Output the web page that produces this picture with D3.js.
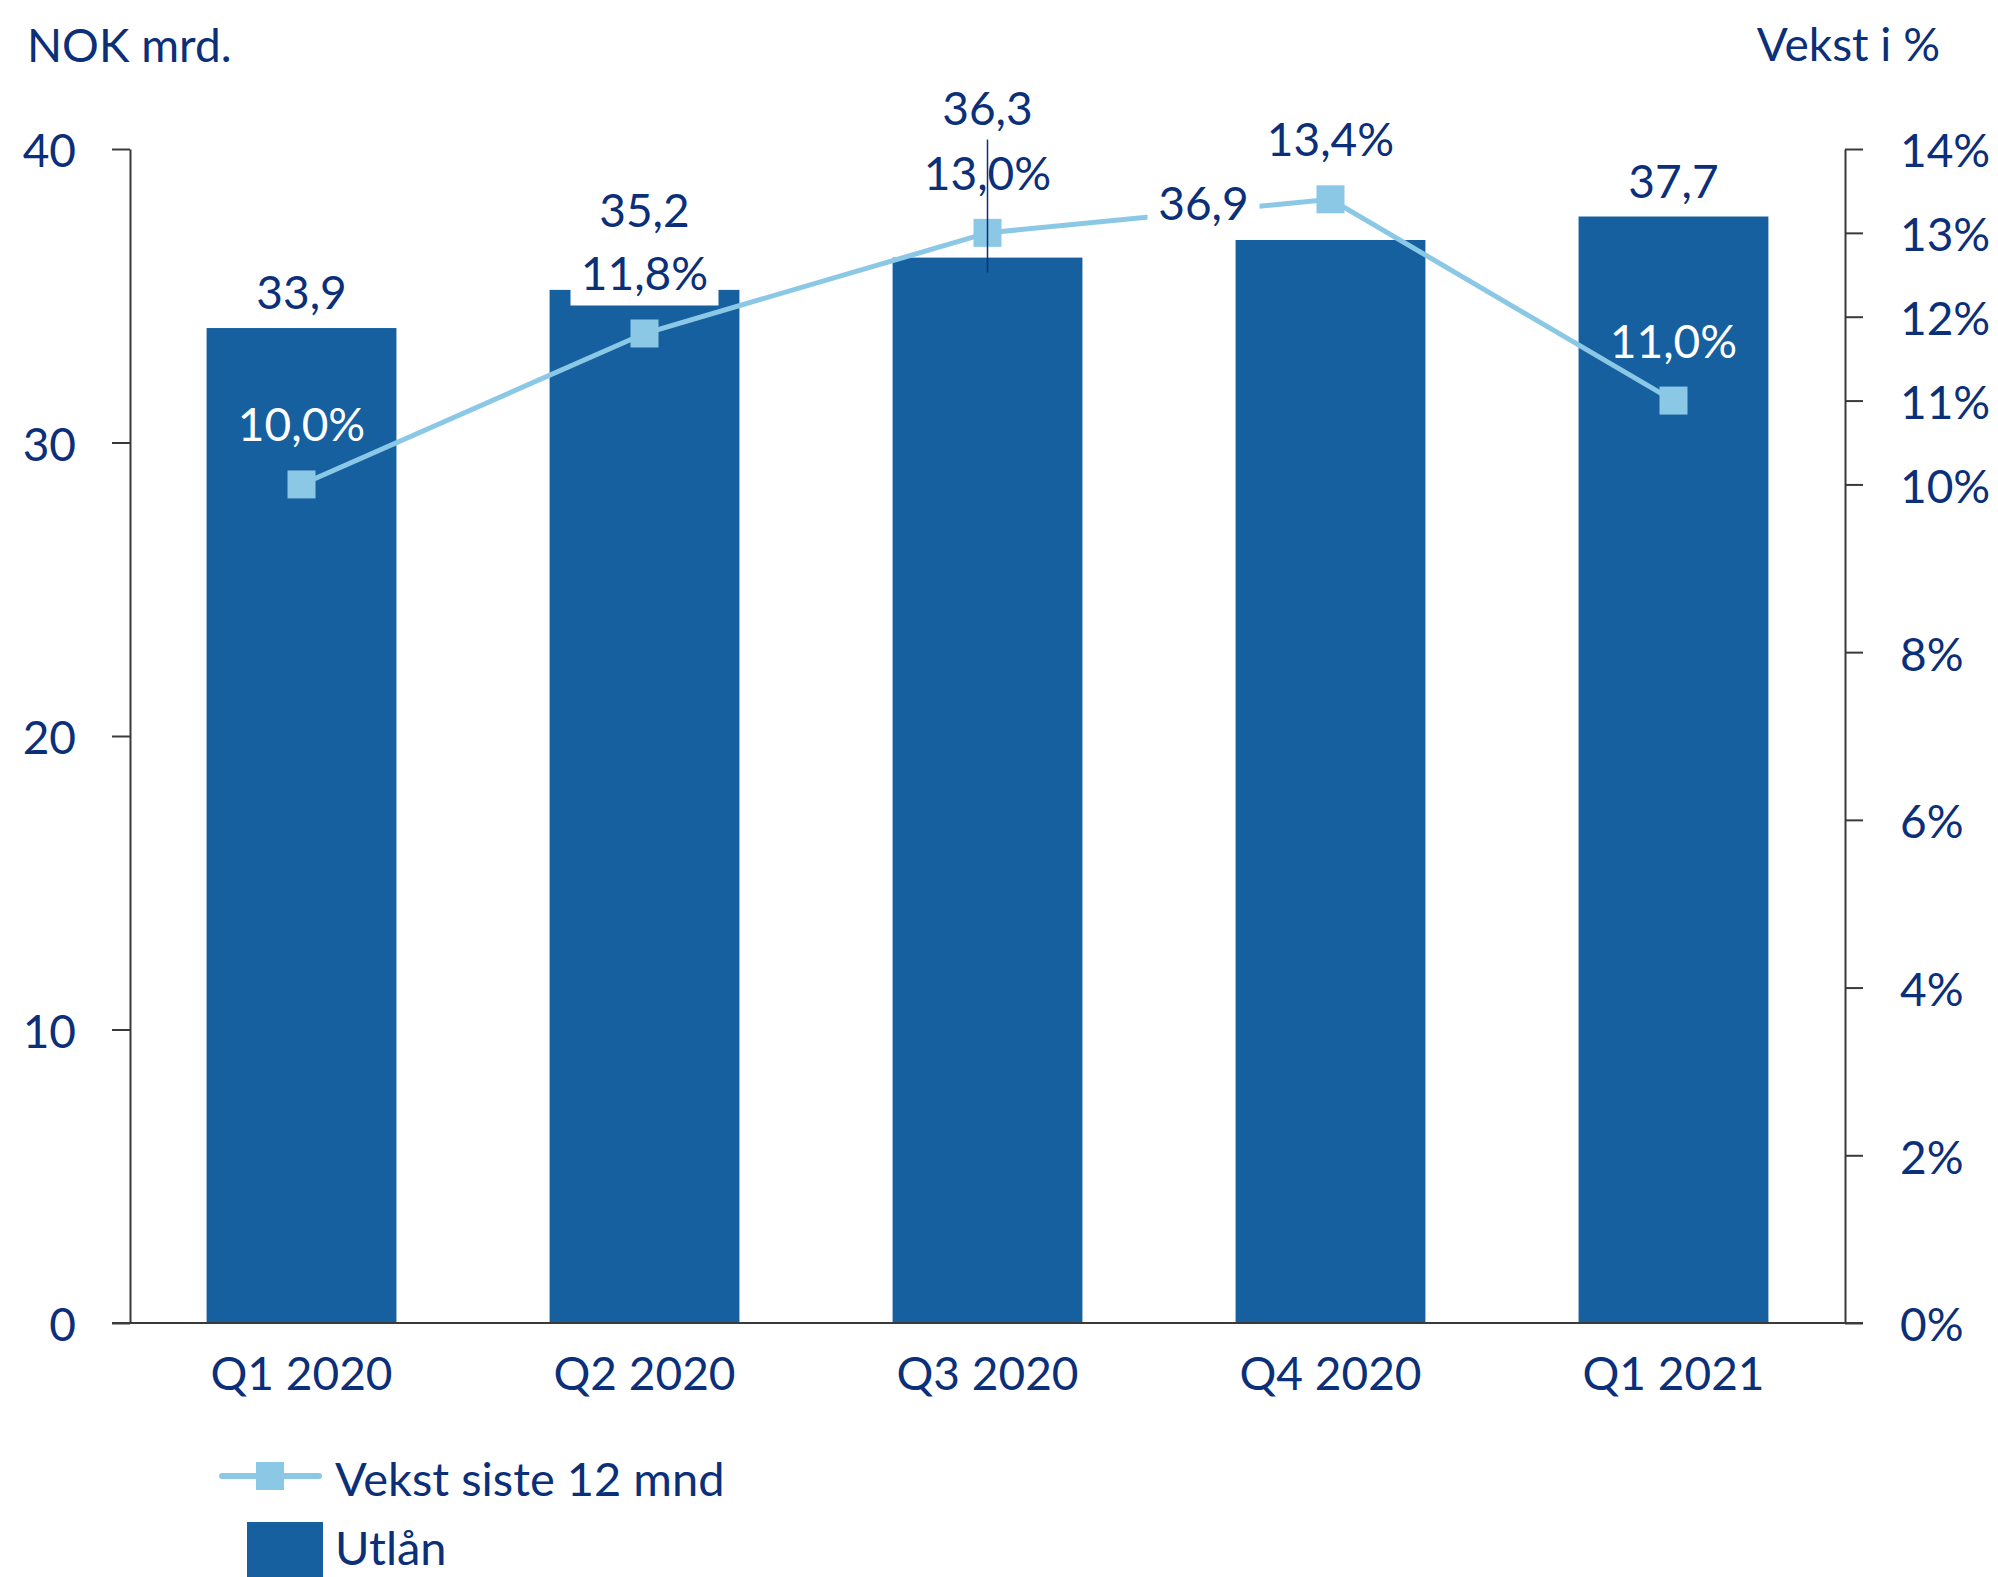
<!DOCTYPE html>
<html>
<head>
<meta charset="utf-8">
<script src="https://cdn.jsdelivr.net/npm/d3@7"></script>
<style>
  html, body { margin: 0; padding: 0; background: #ffffff; }
  svg { display: block; }
  text { font-family: Lato, "Open Sans", sans-serif; }
</style>
</head>
<body>
<svg id="chart" width="1998" height="1577"></svg>
<script>
// ---- Data ----
const categories = ["Q1 2020", "Q2 2020", "Q3 2020", "Q4 2020", "Q1 2021"];
const utlan = [33.9, 35.2, 36.3, 36.9, 37.7];          // NOK mrd. (bars, left axis)
const vekst = [10.0, 11.8, 13.0, 13.4, 11.0];          // Vekst siste 12 mnd, % (line, right axis)
const leftTicks = [0, 10, 20, 30, 40];
const rightTicks = [0, 2, 4, 6, 8, 10, 11, 12, 13, 14];
const seriesNames = ["Vekst siste 12 mnd", "Utlån"];
const leftTitle = "NOK mrd.";
const rightTitle = "Vekst i %";

// ---- Style ----
const NAVY = "#0b2f78";
const BAR = "#1660a0";
const LINE = "#8ac8e6";
const AXIS = "#3a3a3a";
const FS = 46;

const svg = d3.select("#chart");
const plot = { left: 130, right: 1845, top: 149, bottom: 1323 };

const x = d3.scaleBand().domain(categories)
  .range([plot.left, plot.right]).paddingInner(0.4465).paddingOuter(0.2233);
const yL = d3.scaleLinear().domain([0, 40]).range([plot.bottom, plot.top]);
const yR = d3.scaleLinear().domain([0, 14]).range([plot.bottom, plot.top]);
const fmt = v => d3.format(".1f")(v).replace(".", ",");

const rows = categories.map((c, i) => ({ c, u: utlan[i], v: vekst[i] }));

// Bars
svg.append("g").selectAll("rect").data(rows).join("rect")
  .attr("x", d => x(d.c)).attr("width", x.bandwidth())
  .attr("y", d => yL(d.u)).attr("height", d => yL(0) - yL(d.u))
  .attr("fill", BAR);

// Axes
const axL = svg.append("g").attr("transform", `translate(${plot.left},0)`)
  .call(d3.axisLeft(yL).tickValues(leftTicks).tickSize(18).tickSizeOuter(0).tickPadding(36));
const axR = svg.append("g").attr("transform", `translate(${plot.right},0)`)
  .call(d3.axisRight(yR).tickValues(rightTicks).tickFormat(d => d + "%").tickSize(18).tickSizeOuter(0).tickPadding(37));
const axB = svg.append("g").attr("transform", `translate(0,${plot.bottom})`)
  .call(d3.axisBottom(x).tickSize(0).tickPadding(34));
axB.select(".domain").remove();
[axL, axR, axB].forEach(g => {
  g.selectAll("path.domain").attr("stroke", AXIS).attr("stroke-width", 2);
  g.selectAll(".tick line").attr("stroke", AXIS).attr("stroke-width", 2);
  g.selectAll(".tick text").attr("fill", NAVY).style("font-size", FS + "px")
    .style("font-family", "Lato, 'Open Sans', sans-serif");
});
axL.selectAll(".tick text").attr("dy", "0.39em");
axR.selectAll(".tick text").attr("dy", "0.39em");
// baseline line extends past both axes
svg.append("line").attr("x1", plot.left - 18).attr("x2", plot.right + 18)
  .attr("y1", plot.bottom).attr("y2", plot.bottom)
  .attr("stroke", AXIS).attr("stroke-width", 2);

// Axis titles
svg.append("text").attr("x", 27).attr("y", 62).attr("fill", NAVY)
  .style("font-size", FS + "px").text(leftTitle);
svg.append("text").attr("x", 1940).attr("y", 61).attr("text-anchor", "end").attr("fill", NAVY)
  .style("font-size", FS + "px").text(rightTitle);

// Line series
const cx = d => x(d.c) + x.bandwidth() / 2;
svg.append("path").datum(rows)
  .attr("d", d3.line().x(cx).y(d => yR(d.v)))
  .attr("fill", "none").attr("stroke", LINE).attr("stroke-width", 5);
const MS = 28;
svg.append("g").selectAll("rect").data(rows).join("rect")
  .attr("x", d => cx(d) - MS / 2).attr("y", d => yR(d.v) - MS / 2)
  .attr("width", MS).attr("height", MS).attr("fill", LINE);

// Label layout adjustments (manual placements as in the original)
const barLabelAdjust = {
  "Q2 2020": { dx: 0, dy: -63 },
  "Q3 2020": { dx: 0, dy: -133, leader: true },
  "Q4 2020": { dx: -127, dy: -20, bg: true }
};
const growthLabelBg = { "Q2 2020": true };

// Growth labels
rows.forEach(d => {
  const ly = yR(d.v) - 43;
  const inside = ly > yL(d.u) + 10;
  if (growthLabelBg[d.c]) {
    svg.append("rect").attr("x", cx(d) - 74).attr("y", ly - 45).attr("width", 148).attr("height", 60)
      .attr("fill", "#ffffff");
  }
  svg.append("text").attr("x", cx(d)).attr("y", ly).attr("text-anchor", "middle")
    .attr("fill", inside ? "#ffffff" : NAVY).style("font-size", FS + "px").text(fmt(d.v) + "%");
});

// Bar value labels
rows.forEach(d => {
  const adj = barLabelAdjust[d.c] || { dx: 0, dy: -19 };
  const lx = cx(d) + adj.dx;
  const ly = yL(d.u) + adj.dy;
  if (adj.bg) {
    svg.append("rect").attr("x", lx - 56).attr("y", ly - 40).attr("width", 112).attr("height", 56)
      .attr("fill", "#ffffff");
  }
  if (adj.leader) {
    svg.append("line").attr("x1", lx).attr("x2", lx).attr("y1", ly + 15).attr("y2", yL(d.u) + 15)
      .attr("stroke", NAVY).attr("stroke-width", 1.5);
  }
  svg.append("text").attr("x", lx).attr("y", ly).attr("text-anchor", "middle")
    .attr("fill", NAVY).style("font-size", FS + "px").text(fmt(d.u));
});

// Legend
const lg = svg.append("g");
lg.append("line").attr("x1", 222).attr("x2", 319).attr("y1", 1476).attr("y2", 1476)
  .attr("stroke", LINE).attr("stroke-width", 6).attr("stroke-linecap", "round");
lg.append("rect").attr("x", 256).attr("y", 1462).attr("width", MS).attr("height", MS).attr("fill", LINE);
lg.append("text").attr("x", 335).attr("y", 1496).attr("fill", NAVY)
  .style("font-size", "47px").text(seriesNames[0]);
lg.append("rect").attr("x", 247).attr("y", 1522).attr("width", 76).attr("height", 80).attr("fill", BAR);
lg.append("text").attr("x", 335).attr("y", 1565).attr("fill", NAVY)
  .style("font-size", "47px").text(seriesNames[1]);
</script>
</body>
</html>
